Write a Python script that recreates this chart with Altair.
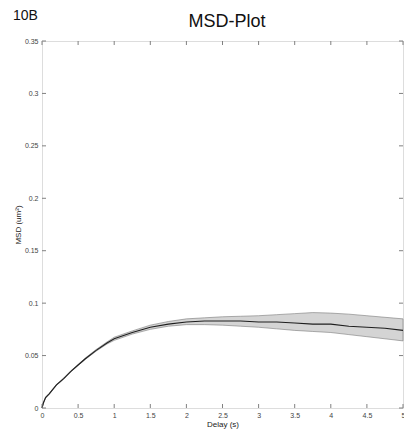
import altair as alt
import pandas as pd

delay = [0, 0.02, 0.05, 0.1, 0.2, 0.3, 0.4, 0.5, 0.6, 0.75, 0.9, 1.0, 1.25, 1.5, 1.75,
         2.0, 2.25, 2.5, 2.75, 3.0, 3.25, 3.5, 3.75, 4.0, 4.25, 4.5, 4.75, 5.0]
msd_mean = [0, 0.005, 0.010, 0.0135, 0.022, 0.028, 0.035, 0.041, 0.047, 0.055, 0.062, 0.066,
            0.072, 0.077, 0.080, 0.082, 0.083, 0.083, 0.083, 0.082, 0.082, 0.081, 0.080,
            0.080, 0.078, 0.077, 0.076, 0.074]
msd_upper = [0, 0.0055, 0.0105, 0.014, 0.0225, 0.0285, 0.0355, 0.0415, 0.0477, 0.0558, 0.0630,
             0.0675, 0.0735, 0.079, 0.0825, 0.085, 0.086, 0.087, 0.0875, 0.088, 0.089, 0.090,
             0.091, 0.0905, 0.0895, 0.088, 0.0865, 0.085]
msd_lower = [0, 0.0045, 0.0095, 0.013, 0.0215, 0.0275, 0.0345, 0.0405, 0.0463, 0.0542, 0.0610,
             0.0645, 0.0705, 0.075, 0.078, 0.0795, 0.0795, 0.079, 0.078, 0.077, 0.0755, 0.074,
             0.073, 0.072, 0.070, 0.068, 0.066, 0.064]

x_ticks = [0, 0.5, 1, 1.5, 2, 2.5, 3, 3.5, 4, 4.5, 5]
y_ticks = [0, 0.05, 0.1, 0.15, 0.2, 0.25, 0.3, 0.35]

W, H = 361, 367
GRAY = "#808080"
FONT = "Liberation Sans"

df = pd.DataFrame({"delay": delay, "mean": msd_mean, "upper": msd_upper, "lower": msd_lower})
xt = pd.DataFrame({"t": x_ticks})
yt = pd.DataFrame({"t": y_ticks})

xs = alt.Scale(domain=[0, 5], nice=False, zero=False)
ys = alt.Scale(domain=[0, 0.35], nice=False)

x_axis = alt.Axis(values=x_ticks, format="~g", title="Delay (s)", ticks=False, domain=False,
                  grid=False, labelPadding=3, labelFontSize=7, labelColor="#444444",
                  labelOverlap=False, labelFlush=False,
                  titleFontSize=8, titleFontWeight="normal", titleColor="#222222",
                  titlePadding=2, labelFont=FONT, titleFont=FONT)
y_axis = alt.Axis(values=y_ticks, format="~g", title="MSD (um²)", ticks=False, domain=False,
                  grid=False, labelPadding=4, labelFontSize=7, labelColor="#444444",
                  labelOverlap=False, labelFlush=False,
                  titleFontSize=8, titleFontWeight="normal", titleColor="#222222",
                  titlePadding=2, labelFont=FONT, titleFont=FONT)

band = alt.Chart(df).mark_area(fill="#d4d4d4", stroke="#7a7a7a", strokeWidth=0.6).encode(
    x=alt.X("delay:Q", scale=xs, axis=x_axis),
    y=alt.Y("upper:Q", scale=ys, axis=y_axis),
    y2="lower:Q",
)
line = alt.Chart(df).mark_line(color="#1e1e1e", strokeWidth=1.1).encode(
    x=alt.X("delay:Q", scale=xs, axis=x_axis),
    y=alt.Y("mean:Q", scale=ys, axis=y_axis),
)

tb = alt.Chart(xt).mark_rule(color=GRAY, strokeWidth=1).encode(
    x=alt.X("t:Q", scale=xs, axis=x_axis), y=alt.value(H), y2=alt.value(H - 4))
tt = alt.Chart(xt).mark_rule(color=GRAY, strokeWidth=1).encode(
    x=alt.X("t:Q", scale=xs, axis=x_axis), y=alt.value(0), y2=alt.value(4))
tl = alt.Chart(yt).mark_rule(color=GRAY, strokeWidth=1).encode(
    y=alt.Y("t:Q", scale=ys, axis=y_axis), x=alt.value(0), x2=alt.value(4))
tr = alt.Chart(yt).mark_rule(color=GRAY, strokeWidth=1).encode(
    y=alt.Y("t:Q", scale=ys, axis=y_axis), x=alt.value(W), x2=alt.value(W - 4))

title = alt.Chart(pd.DataFrame({"s": ["MSD-Plot"]})).mark_text(
    fontSize=18, font=FONT, color="#111111", align="center", baseline="alphabetic").encode(
    text="s:N", x=alt.value(185), y=alt.value(-14))
label = alt.Chart(pd.DataFrame({"s": ["10B"]})).mark_text(
    fontSize=14, font=FONT, color="#111111", align="left", baseline="alphabetic").encode(
    text="s:N", x=alt.value(-29), y=alt.value(-21))

chart = alt.layer(band, line, tb, tt, tl, tr, title, label).properties(
    width=W, height=H,
    autosize=alt.AutoSizeParams(type="none"),
    padding={"left": 34, "top": 33, "right": 1, "bottom": 23},
).configure_view(stroke=GRAY, strokeWidth=1).configure(background="white")

chart.save("out.html", embed_options={"renderer": "svg", "actions": False})
